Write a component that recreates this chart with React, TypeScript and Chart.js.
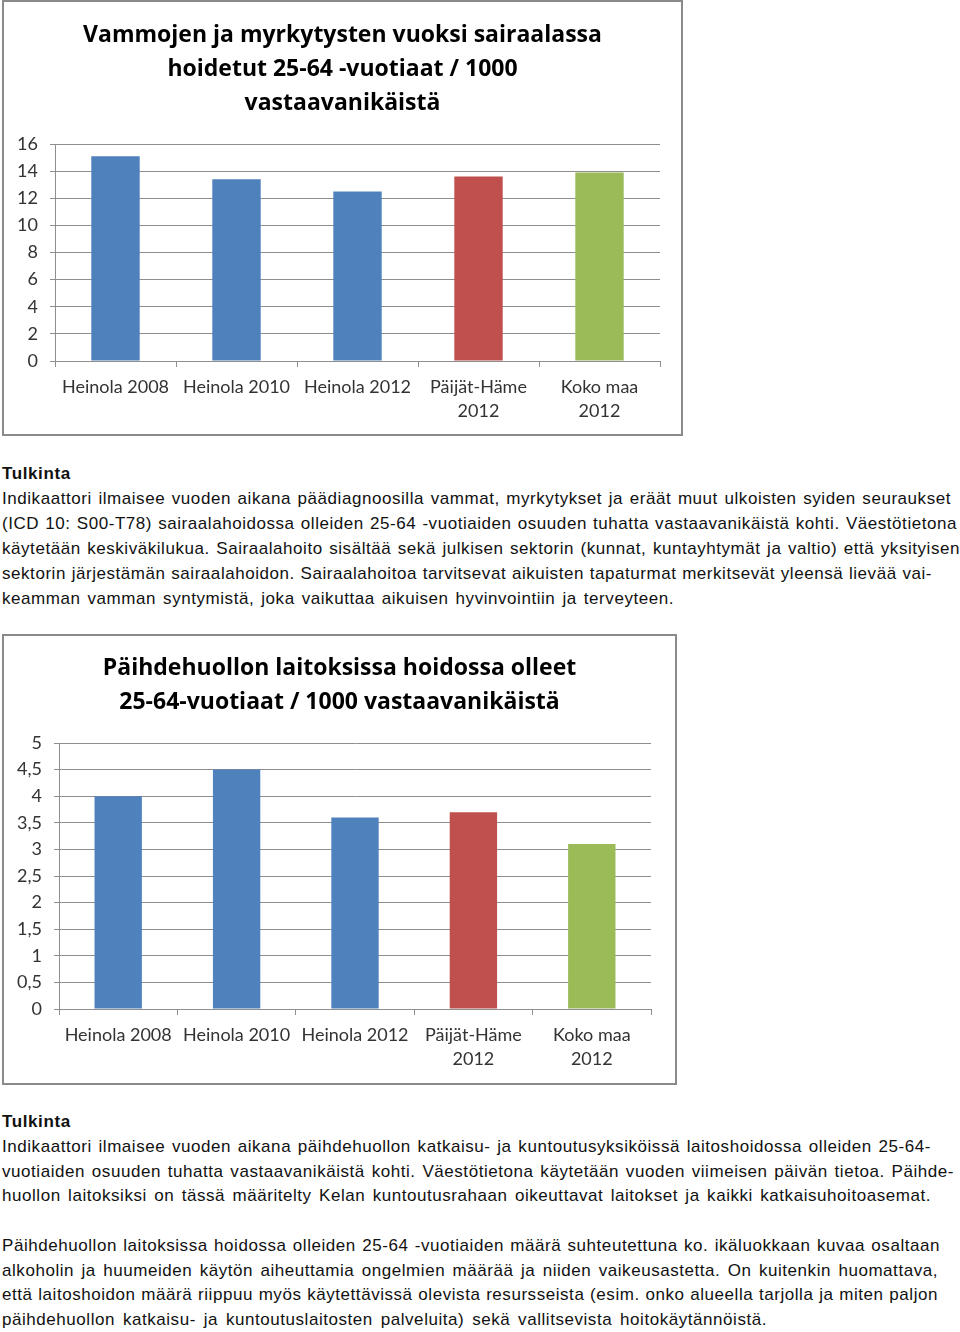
import React, { useEffect, useRef } from "react";
import { Chart, registerables } from "chart.js";

Chart.register(...registerables);

const categoryLabels: string[][] = [
  ["Heinola 2008"],
  ["Heinola 2010"],
  ["Heinola 2012"],
  ["Päijät-Häme", "2012"],
  ["Koko maa", "2012"],
];
const barColors = ["#4F81BD", "#4F81BD", "#4F81BD", "#C0504D", "#9BBB59"];

const injuryTitle = [
  "Vammojen ja myrkytysten vuoksi sairaalassa",
  "hoidetut 25-64 -vuotiaat / 1000",
  "vastaavanikäistä",
];
const injuryValues = [15.1, 13.4, 12.5, 13.6, 13.9];
const injuryAxisMax = 16;
const injuryAxisStep = 2;

const substanceTitle = [
  "Päihdehuollon laitoksissa hoidossa olleet",
  "25-64-vuotiaat / 1000 vastaavanikäistä",
];
const substanceValues = [4.0, 4.5, 3.6, 3.7, 3.1];
const substanceAxisMax = 5;
const substanceAxisStep = 0.5;

const text1Lines = [
  "Indikaattori ilmaisee vuoden aikana päädiagnoosilla vammat, myrkytykset ja eräät muut ulkoisten syiden seuraukset",
  "(ICD 10: S00-T78) sairaalahoidossa olleiden 25-64 -vuotiaiden osuuden tuhatta vastaavanikäistä kohti. Väestötietona",
  "käytetään keskiväkilukua. Sairaalahoito sisältää sekä julkisen sektorin (kunnat, kuntayhtymät ja valtio) että yksityisen",
  "sektorin järjestämän sairaalahoidon. Sairaalahoitoa tarvitsevat aikuisten tapaturmat merkitsevät yleensä lievää vai-",
  "keamman vamman syntymistä, joka vaikuttaa aikuisen hyvinvointiin ja terveyteen.",
];
const text1Widths = [949, 955, 958, 930, 672];
const text2Lines = [
  "Indikaattori ilmaisee vuoden aikana päihdehuollon katkaisu- ja kuntoutusyksiköissä laitoshoidossa olleiden 25-64-",
  "vuotiaiden osuuden tuhatta vastaavanikäistä kohti. Väestötietona käytetään vuoden viimeisen päivän tietoa. Päihde-",
  "huollon laitoksiksi on tässä määritelty Kelan kuntoutusrahaan oikeuttavat laitokset ja kaikki katkaisuhoitoasemat.",
  "",
  "Päihdehuollon laitoksissa hoidossa olleiden 25-64 -vuotiaiden määrä suhteutettuna ko. ikäluokkaan kuvaa osaltaan",
  "alkoholin ja huumeiden käytön aiheuttamia ongelmien määrää ja niiden vaikeusastetta. On kuitenkin huomattava,",
  "että laitoshoidon määrä riippuu myös käytettävissä olevista resursseista (esim. onko alueella tarjolla ja miten paljon",
  "päihdehuollon katkaisu- ja kuntoutuslaitosten palveluita) sekä vallitsevista hoitokäytännöistä.",
];
const text2Widths = [929, 952, 929, 0, 938, 936, 936, 765];

const GRID = "#8e8e8e";
const LABEL = "#333333";
const FONT = "Lato, 'Open Sans', sans-serif";
const TITLE_FONT = "'Open Sans', Lato, sans-serif";

type BarProps = {
  title: string[];
  values: number[];
  max: number;
  step: number;
  left: number;
  top: number;
  width: number;
  height: number;
  titlePadTop: number;
  titlePadBottom: number;
  yWidth: number;
  xHeight: number;
  padRight: number;
};

function BarChart(p: BarProps) {
  const ref = useRef<HTMLCanvasElement | null>(null);
  useEffect(() => {
    if (!ref.current) return;
    const chart = new Chart(ref.current, {
      type: "bar",
      data: {
        labels: categoryLabels,
        datasets: [
          {
            data: p.values,
            backgroundColor: barColors,
            borderWidth: 0,
            categoryPercentage: 1,
            barPercentage: 0.4,
            yAxisID: "y",
          },
        ],
      },
      options: {
        animation: false,
        responsive: false,
        events: [],
        layout: { padding: 0 },
        plugins: {
          legend: { display: false },
          tooltip: { enabled: false },
          title: {
            display: true,
            text: p.title,
            color: "#000",
            font: { family: TITLE_FONT, size: 23, weight: "bold", lineHeight: 34 / 23 },
            padding: { top: p.titlePadTop, bottom: p.titlePadBottom },
          },
        },
        scales: {
          x: {
            grid: {
              display: true,
              drawOnChartArea: false,
              drawTicks: true,
              tickLength: 6,
              color: GRID,
              offset: true,
            },
            border: { display: true, color: GRID, width: 1 },
            ticks: {
              color: LABEL,
              padding: 8,
              maxRotation: 0,
              autoSkip: false,
              font: { family: FONT, size: 18, lineHeight: 24 / 18 },
            },
            afterFit: (s: any) => {
              s.height = p.xHeight;
            },
          },
          y: {
            position: "left",
            min: 0,
            max: p.max,
            grid: { color: GRID, tickLength: 5, drawTicks: true },
            border: { display: true, color: GRID, width: 1 },
            ticks: {
              stepSize: p.step,
              color: LABEL,
              padding: 12,
              font: { family: FONT, size: 18 },
              callback: (v: any) => String(v).replace(".", ","),
            },
            afterFit: (s: any) => {
              s.width = p.yWidth;
            },
          },
          spacer: {
            position: "right",
            display: true,
            min: 0,
            max: 1,
            grid: { display: false, drawTicks: false },
            border: { display: false },
            ticks: { display: false },
            afterFit: (s: any) => {
              s.width = p.padRight;
            },
          },
        },
      },
    } as any);
    return () => chart.destroy();
  }, []);
  return (
    <div
      style={{
        position: "absolute",
        left: p.left,
        top: p.top,
        width: p.width,
        height: p.height,
        border: "2px solid #8a8a8a",
        background: "#fff",
        boxSizing: "border-box",
      }}
    >
      <canvas
        ref={ref}
        width={p.width - 4}
        height={p.height - 4}
        style={{ display: "block", width: p.width - 4, height: p.height - 4 }}
      />
    </div>
  );
}

const textStyle: React.CSSProperties = {
  position: "absolute",
  left: 2,
  whiteSpace: "nowrap",
  fontFamily: "'Liberation Sans', Arial, sans-serif",
  fontSize: 17,
  letterSpacing: 0.55,
  color: "#111",
  lineHeight: "25px",
  height: 25,
  textAlign: "justify",
  textAlignLast: "justify",
};

function TextBlock({ top, lines, widths, step }: { top: number; lines: string[]; widths: number[]; step: number }) {
  return (
    <>
      <div style={{ ...textStyle, top, fontWeight: "bold", letterSpacing: 0.6, textAlign: "left", textAlignLast: "auto" }}>
        Tulkinta
      </div>
      {lines.map((l, i) => (
        <div key={i} style={{ ...textStyle, top: top + step * (i + 1), width: widths[i] || undefined }}>
          {l}
        </div>
      ))}
    </>
  );
}

export default function App() {
  return (
    <div style={{ position: "absolute", left: 0, top: 0, width: 960, height: 1332, background: "#fff", overflow: "hidden" }}>
      <BarChart
        title={injuryTitle}
        values={injuryValues}
        max={injuryAxisMax}
        step={injuryAxisStep}
        left={2}
        top={0}
        width={681}
        height={436}
        titlePadTop={16}
        titlePadBottom={24}
        yWidth={51}
        xHeight={73}
        padRight={21}
      />
      <TextBlock top={461} lines={text1Lines} widths={text1Widths} step={24.9} />
      <BarChart
        title={substanceTitle}
        values={substanceValues}
        max={substanceAxisMax}
        step={substanceAxisStep}
        left={2}
        top={634}
        width={675}
        height={451}
        titlePadTop={15}
        titlePadBottom={24}
        yWidth={55}
        xHeight={74}
        padRight={24}
      />
      <TextBlock top={1109} lines={text2Lines} widths={text2Widths} step={24.75} />
    </div>
  );
}
